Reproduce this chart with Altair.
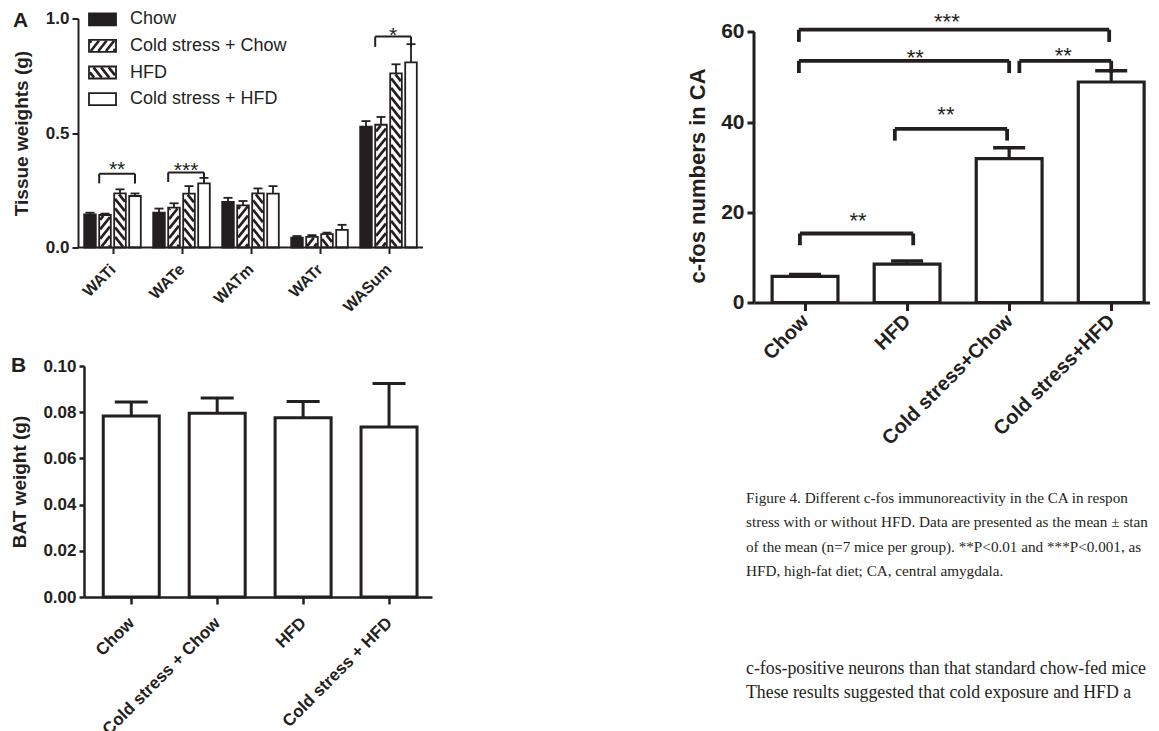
import math
import altair as alt
import pandas as pd

INK = "#231f20"
SANS = "Liberation Sans"
SERIF = "Liberation Serif"

# ---------------- Panel A data ----------------
tissues = ["WATi", "WATe", "WATm", "WATr", "WASum"]
groups = ["Chow", "Cold stress + Chow", "HFD", "Cold stress + HFD"]
a_chow = [0.145, 0.152, 0.199, 0.043, 0.528]
a_cold_chow = [0.142, 0.174, 0.184, 0.046, 0.536]
a_hfd = [0.236, 0.235, 0.236, 0.058, 0.760]
a_cold_hfd = [0.225, 0.280, 0.235, 0.077, 0.808]
a_chow_sem = [0.007, 0.018, 0.018, 0.007, 0.024]
a_cold_chow_sem = [0.006, 0.019, 0.019, 0.008, 0.034]
a_hfd_sem = [0.018, 0.033, 0.022, 0.007, 0.040]
a_cold_hfd_sem = [0.011, 0.024, 0.033, 0.022, 0.080]
a_sig_tissue = ["WATi", "WATe", "WASum"]
a_sig_label = ["**", "***", "*"]
a_sig_top = [0.322, 0.328, 0.921]
a_sig_drop = [0.042, 0.042, 0.045]
a_sig_text = [0.362, 0.358, 0.945]

# ---------------- Panel B data ----------------
b_groups = ["Chow", "Cold stress + Chow", "HFD", "Cold stress + HFD"]
b_mean = [0.0784, 0.0795, 0.0776, 0.0736]
b_sem = [0.0060, 0.0066, 0.0070, 0.0188]

# ---------------- Panel C data ----------------
c_groups = ["Chow", "HFD", "Cold stress+Chow", "Cold stress+HFD"]
c_mean = [5.8, 8.5, 31.9, 48.9]
c_sem = [0.4, 0.7, 2.4, 2.5]
c_sig_left = [0.45, 1.38, 0.44, 2.60, 0.44]
c_sig_right = [1.56, 2.48, 2.50, 3.50, 3.48]
c_sig_top = [15.3, 38.5, 53.6, 53.6, 60.5]
c_sig_drop = [2.6, 2.6, 2.7, 2.7, 2.7]
c_sig_text_x = [1.02, 1.88, 1.58, 3.03, 1.89]
c_sig_text = [19.0, 42.7, 55.3, 55.6, 63.2]
c_sig_label = ["**", "**", "**", "**", "***"]

caption_lines = [
    "Figure 4. Different c-fos immunoreactivity in the CA in respon",
    "stress with or without HFD. Data are presented as the mean \u00b1 stan",
    "of the mean (n=7 mice per group). **P<0.01 and ***P<0.001, as",
    "HFD, high-fat diet; CA, central amygdala.",
]
body_lines = [
    "c-fos-positive neurons than that standard chow-fed mice",
    "These results suggested that cold exposure and HFD a",
]


def hatch_segments(x0, x1, y0, y1, direction, period=9.5, slope=1.25, inset=0.9):
    """Diagonal hatch lines (pixel space, y up) clipped to a rectangle."""
    x0 += inset; x1 -= inset; y0 += inset; y1 -= inset
    segs = []
    if x1 <= x0 or y1 <= y0:
        return segs
    if direction > 0:
        cmin, cmax = y0 - slope * x1, y1 - slope * x0
    else:
        cmin, cmax = y0 + slope * x0, y1 + slope * x1
    c = math.floor(cmin / period) * period
    while c <= cmax + 1e-9:
        if direction > 0:
            xa = max(x0, (y0 - c) / slope); xb = min(x1, (y1 - c) / slope)
            if xb - xa > 0.2:
                segs.append((xa, slope * xa + c, xb, slope * xb + c))
        else:
            xa = max(x0, (c - y1) / slope); xb = min(x1, (c - y0) / slope)
            if xb - xa > 0.2:
                segs.append((xa, c - slope * xa, xb, c - slope * xb))
        c += period
    return segs


def bold_axis(**kw):
    base = dict(grid=False, domainColor=INK, tickColor=INK, labelColor=INK, titleColor=INK,
                labelFont=SANS, titleFont=SANS, labelFontWeight="bold", titleFontWeight="bold",
                labelOverlap=False)
    base.update(kw)
    return alt.Axis(**base)


def label_expr(names):
    return "[" + ",".join("'" + n + "'" for n in names) + "][floor(datum.value)]"


def text_layer(txt, x, y, **kw):
    return alt.Chart(pd.DataFrame({"t": [txt]})).mark_text(**kw).encode(
        text="t:N", x=alt.value(x), y=alt.value(y))


STAR_CENTER_EM = 0.53  # asterisk glyph centre above the alphabetic baseline

# =============== Panel A ===============
A_PX, A_PY = 69.0, 229.0          # px per data unit
A_LEFT = 6.0 / A_PX               # data x at which plot area starts (y axis drawn 6px left)
A_W, A_H = round((5 - A_LEFT) * A_PX), 229
a_means = [a_chow, a_cold_chow, a_hfd, a_cold_hfd]
a_sems = [a_chow_sem, a_cold_chow_sem, a_hfd_sem, a_cold_hfd_sem]
a_offset_px = [-22.5, -7.5, 7.5, 22.5]
a_half_px, a_cap_px = 5.8, 4.5
hatch_dir = {"Cold stress + Chow": 1, "HFD": -1}
fill_of = {"Chow": INK}
A_STAR = 21

rects, stripes, errs = [], [], []
for gi, g in enumerate(groups):
    for ti, t in enumerate(tissues):
        c = ti + 0.5 + a_offset_px[gi] / A_PX
        m = a_means[gi][ti]
        rects.append(dict(x0=c - a_half_px / A_PX, x1=c + a_half_px / A_PX, y0=0.0, y1=m,
                          fill=fill_of.get(g, "white"), group=g))
        errs.append(dict(c=c, m=m, top=m + a_sems[gi][ti],
                         cl=c - a_cap_px / A_PX, cr=c + a_cap_px / A_PX))
legend_rows = []
for gi, g in enumerate(groups):
    yc = 1.0 - (0.8 + 26.6 * gi) / A_PY
    rects.append(dict(x0=11 / A_PX, x1=38 / A_PX, y0=yc - 6 / A_PY, y1=yc + 6 / A_PY,
                      fill=fill_of.get(g, "white"), group=g))
    legend_rows.append(dict(x=52 / A_PX, y=yc, label=g))
for r in rects:
    d = hatch_dir.get(r["group"])
    if d:
        for (xa, ya, xb, yb) in hatch_segments(r["x0"] * A_PX, r["x1"] * A_PX,
                                               r["y0"] * A_PY, r["y1"] * A_PY, d):
            stripes.append(dict(x=xa / A_PX, y=ya / A_PY, x2=xb / A_PX, y2=yb / A_PY))

a_rect_df = pd.DataFrame(rects)
a_stripe_df = pd.DataFrame(stripes)
a_err_df = pd.DataFrame(errs)
a_leg_df = pd.DataFrame(legend_rows)
a_xaxis_df = pd.DataFrame({"x": [0.0], "x2": [5.0], "y": [0.0]})

sig_rows, sig_h, sig_txt = [], [], []
for t, lab, top, drop, ty in zip(a_sig_tissue, a_sig_label, a_sig_top, a_sig_drop, a_sig_text):
    ti = tissues.index(t)
    left = ti + 0.5 + (a_offset_px[1] - a_half_px) / A_PX
    right = ti + 0.5 + a_offset_px[3] / A_PX
    sig_h.append(dict(x=left, x2=right, y=top))
    sig_rows.append(dict(x=left, y=top - drop, y2=top))
    sig_rows.append(dict(x=right, y=top - drop, y2=top))
    sig_txt.append(dict(x=(left + right) / 2, y=ty - STAR_CENTER_EM * A_STAR / A_PY, label=lab))

axA_x = bold_axis(values=[i + 0.5 for i in range(5)], labelExpr=label_expr(tissues),
                  labelAngle=-45, labelAlign="right", labelBaseline="middle", labelFontSize=16,
                  labelPadding=13, tickSize=6, tickWidth=2, domain=False, title=None)
axA_y = bold_axis(values=[0.0, 0.5, 1.0], format=".1f", labelFontSize=17, tickSize=6,
                  tickWidth=2, domainWidth=2, labelPadding=3, title="Tissue weights (g)",
                  titleFontSize=19, titlePadding=14, offset=6)
sxA = alt.Scale(domain=[A_LEFT, 5], nice=False, zero=False)
syA = alt.Scale(domain=[0, 1.0], nice=False)


def XA(f):
    return alt.X(f, type="quantitative", scale=sxA, axis=axA_x)


def YA(f):
    return alt.Y(f, type="quantitative", scale=syA, axis=axA_y)


A = alt.layer(
    alt.Chart(a_rect_df).mark_rect(strokeWidth=0).encode(
        x=XA("x0"), x2="x1", y=YA("y0"), y2="y1", fill=alt.Fill("fill:N", scale=None)),
    alt.Chart(a_stripe_df).mark_rule(color=INK, strokeWidth=2.6, strokeCap="butt").encode(
        x=XA("x"), x2="x2", y=YA("y"), y2="y2"),
    alt.Chart(a_rect_df).mark_rect(fillOpacity=0, stroke=INK, strokeWidth=1.8).encode(
        x=XA("x0"), x2="x1", y=YA("y0"), y2="y1"),
    alt.Chart(a_xaxis_df).mark_rule(color=INK, strokeWidth=2).encode(
        x=XA("x"), x2="x2", y=YA("y")),
    alt.Chart(a_err_df).mark_rule(color=INK, strokeWidth=1.8).encode(
        x=XA("c"), y=YA("m"), y2="top"),
    alt.Chart(a_err_df).mark_rule(color=INK, strokeWidth=1.8).encode(
        x=XA("cl"), x2="cr", y=YA("top")),
    alt.Chart(pd.DataFrame(sig_h)).mark_rule(color=INK, strokeWidth=2).encode(
        x=XA("x"), x2="x2", y=YA("y")),
    alt.Chart(pd.DataFrame(sig_rows)).mark_rule(color=INK, strokeWidth=2).encode(
        x=XA("x"), y=YA("y"), y2="y2"),
    alt.Chart(pd.DataFrame(sig_txt)).mark_text(font=SANS, fontSize=A_STAR, color=INK,
                                               baseline="alphabetic").encode(
        x=XA("x"), y=YA("y"), text="label:N"),
    alt.Chart(a_leg_df).mark_text(font=SANS, fontSize=18, color=INK, align="left",
                                  baseline="middle").encode(
        x=XA("x"), y=YA("y"), text="label:N"),
    text_layer("A", -71, 2.5, font=SANS, fontSize=21, fontWeight="bold", color=INK,
               align="left", baseline="middle"),
).properties(width=A_W, height=A_H)

# =============== Panel B ===============
B_W, B_H = 348, 231
B_DOM = [-0.05, 4.0]
B_PX = B_W / (B_DOM[1] - B_DOM[0])
b_half_px, b_cap_px = 28.0, 16.5
b_df = pd.DataFrame({
    "c": [i + 0.5 for i in range(4)],
    "m": b_mean,
    "top": [m + s for m, s in zip(b_mean, b_sem)],
})
b_df["x0"] = b_df["c"] - b_half_px / B_PX
b_df["x1"] = b_df["c"] + b_half_px / B_PX
b_df["cl"] = b_df["c"] - b_cap_px / B_PX
b_df["cr"] = b_df["c"] + b_cap_px / B_PX
b_df["zero"] = 0.0

axB_x = bold_axis(values=[i + 0.5 for i in range(4)], labelExpr=label_expr(b_groups),
                  labelAngle=-45, labelAlign="right", labelBaseline="middle", labelFontSize=17,
                  labelPadding=16, tickSize=7, tickWidth=2.5, domainWidth=2.5, title=None)
axB_y = bold_axis(values=[0, 0.02, 0.04, 0.06, 0.08, 0.10], format=".2f", labelFontSize=17,
                  tickSize=5, tickWidth=2.5, domainWidth=2.5, labelPadding=3,
                  title="BAT weight (g)", titleFontSize=19, titlePadding=13)
sxB = alt.Scale(domain=B_DOM, nice=False, zero=False)
syB = alt.Scale(domain=[0, 0.10], nice=False)


def XB(f):
    return alt.X(f, type="quantitative", scale=sxB, axis=axB_x)


def YB(f):
    return alt.Y(f, type="quantitative", scale=syB, axis=axB_y)


B = alt.layer(
    alt.Chart(b_df).mark_rect(fill="white", stroke=INK, strokeWidth=3).encode(
        x=XB("x0"), x2="x1", y=YB("zero"), y2="m"),
    alt.Chart(b_df).mark_rule(color=INK, strokeWidth=3).encode(x=XB("c"), y=YB("m"), y2="top"),
    alt.Chart(b_df).mark_rule(color=INK, strokeWidth=3).encode(x=XB("cl"), x2="cr", y=YB("top")),
    text_layer("B", -73, 0, font=SANS, fontSize=21, fontWeight="bold", color=INK,
               align="left", baseline="middle"),
).properties(width=B_W, height=B_H)

# =============== Panel C ===============
C_PX, C_PY = 102.0, 271.0 / 60.0
C_RIGHT = 3.88
C_EXTRA_TOP = 13.5                # plot area starts above the 60 tick
C_TOP = 60 + C_EXTRA_TOP / C_PY
C_W, C_H = round(C_RIGHT * C_PX), round(C_TOP * C_PY)
c_half_px, c_cap_px = 32.9, 16.0
C_STAR = 22
c_df = pd.DataFrame({
    "c": [i + 0.5 for i in range(4)],
    "m": c_mean,
    "top": [m + s for m, s in zip(c_mean, c_sem)],
})
c_df["x0"] = c_df["c"] - c_half_px / C_PX
c_df["x1"] = c_df["c"] + c_half_px / C_PX
c_df["cl"] = c_df["c"] - c_cap_px / C_PX
c_df["cr"] = c_df["c"] + c_cap_px / C_PX
c_df["zero"] = 0.0

c_h = pd.DataFrame({"x": c_sig_left, "x2": c_sig_right, "y": c_sig_top})
c_legs = pd.DataFrame({
    "x": c_sig_left + c_sig_right,
    "y": [t - d for t, d in zip(c_sig_top, c_sig_drop)] * 2,
    "y2": c_sig_top * 2,
})
c_txt = pd.DataFrame({
    "x": c_sig_text_x,
    "y": [v - STAR_CENTER_EM * C_STAR / C_PY for v in c_sig_text],
    "label": c_sig_label,
})
c_yaxis_df = pd.DataFrame({"x": [0.0], "y": [0.0], "y2": [60.0]})

axC_x = bold_axis(values=[i + 0.5 for i in range(4)], labelExpr=label_expr(c_groups),
                  labelAngle=-45, labelAlign="right", labelBaseline="middle", labelFontSize=20,
                  labelPadding=7, tickSize=8, tickWidth=3, domainWidth=3, title=None)
axC_y = bold_axis(values=[0, 20, 40, 60], labelFontSize=21, tickSize=7, tickWidth=3,
                  domain=False, labelPadding=3, title="c-fos numbers in CA",
                  titleFontSize=22, titlePadding=11, titleY=157)
sxC = alt.Scale(domain=[0, C_RIGHT], nice=False, zero=False)
syC = alt.Scale(domain=[0, C_TOP], nice=False)


def XC(f):
    return alt.X(f, type="quantitative", scale=sxC, axis=axC_x)


def YC(f):
    return alt.Y(f, type="quantitative", scale=syC, axis=axC_y)


cap_layers = [text_layer(s, -8, 484 + 24.6 * i, font=SERIF, fontSize=15.2, color=INK,
                         align="left", baseline="alphabetic")
              for i, s in enumerate(caption_lines)]
body_layers = [text_layer(s, -8, 655 + 24 * i, font=SERIF, fontSize=17.8, color=INK,
                          align="left", baseline="alphabetic")
               for i, s in enumerate(body_lines)]

C = alt.layer(
    alt.Chart(c_df).mark_rect(fill="white", stroke=INK, strokeWidth=3.2).encode(
        x=XC("x0"), x2="x1", y=YC("zero"), y2="m"),
    alt.Chart(c_yaxis_df).mark_rule(color=INK, strokeWidth=3).encode(
        x=XC("x"), y=YC("y"), y2="y2"),
    alt.Chart(c_df).mark_rule(color=INK, strokeWidth=3.2).encode(x=XC("c"), y=YC("m"), y2="top"),
    alt.Chart(c_df).mark_rule(color=INK, strokeWidth=3.5).encode(x=XC("cl"), x2="cr", y=YC("top")),
    alt.Chart(c_h).mark_rule(color=INK, strokeWidth=3.8).encode(x=XC("x"), x2="x2", y=YC("y")),
    alt.Chart(c_legs).mark_rule(color=INK, strokeWidth=3.8).encode(x=XC("x"), y=YC("y"), y2="y2"),
    alt.Chart(c_txt).mark_text(font=SANS, fontSize=C_STAR, color=INK,
                               baseline="alphabetic").encode(
        x=XC("x"), y=YC("y"), text="label:N"),
    *cap_layers,
    *body_layers,
).properties(width=C_W, height=C_H)

left = alt.concat(A, B, columns=1, spacing=39.5, align="none")
chart = alt.concat(left, C, columns=2, spacing=254, align="none").properties(
    padding={"left": 2, "top": 1.5, "right": 0, "bottom": 0},
    background="white",
).configure_view(stroke=None)

chart.save("out.html", embed_options={"renderer": "svg", "actions": False})
